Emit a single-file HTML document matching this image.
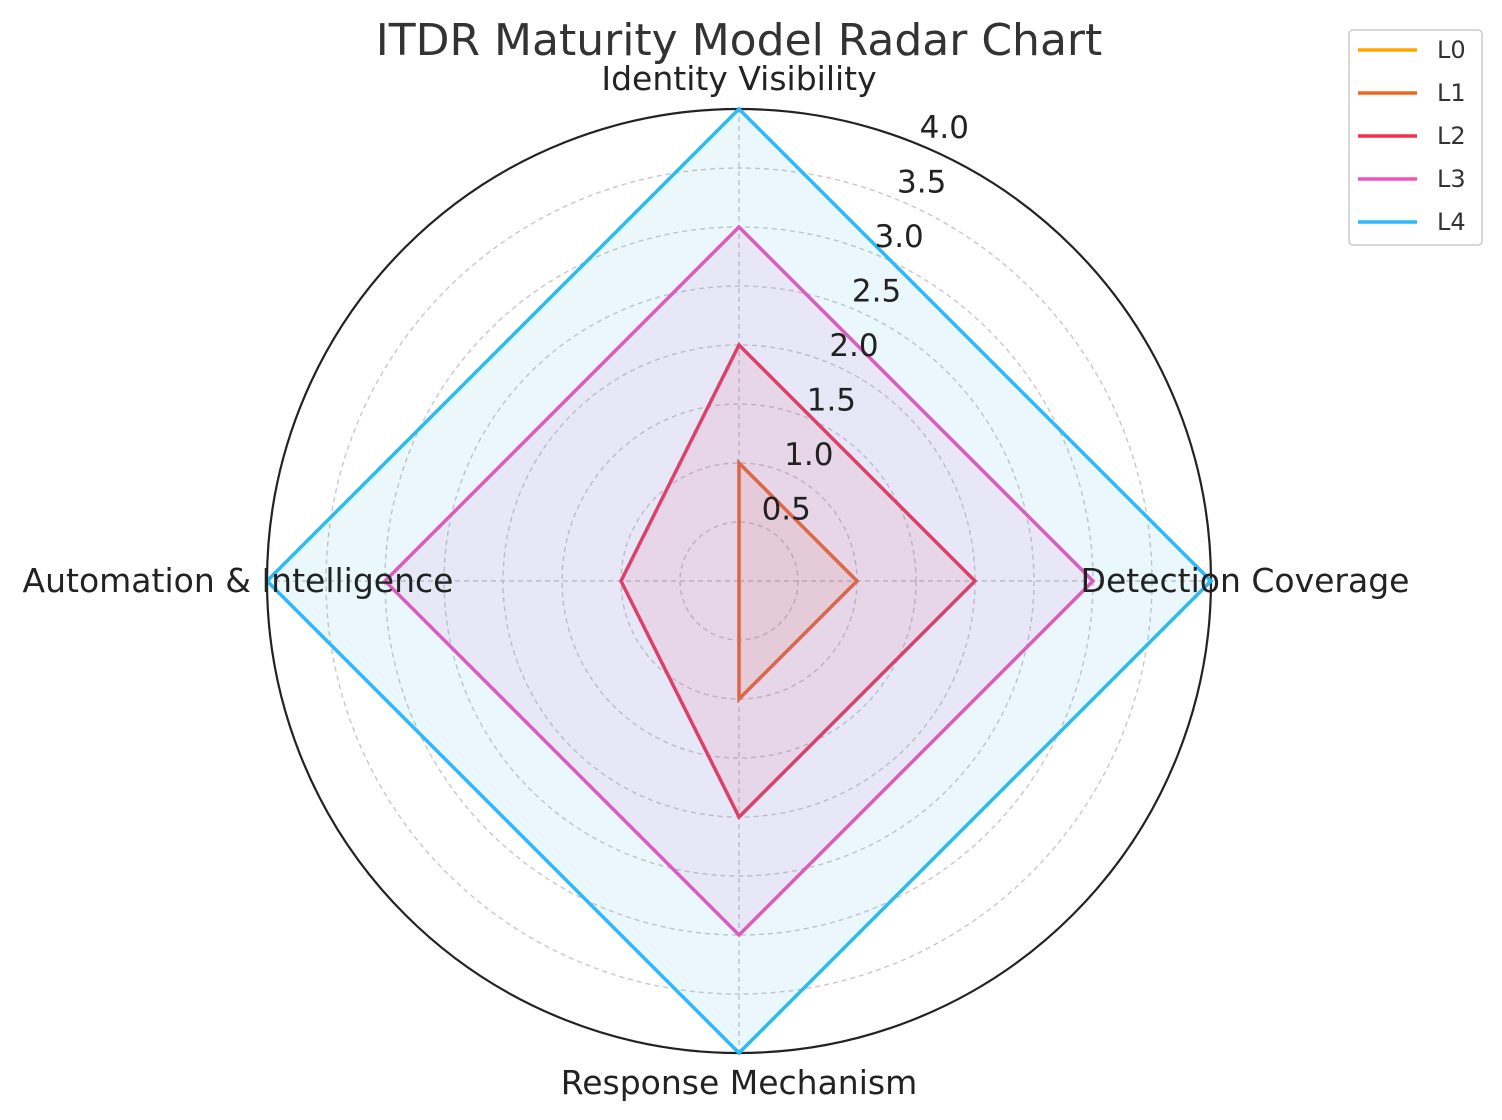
<!DOCTYPE html>
<html><head><meta charset="utf-8"><style>
body{margin:0;background:#fff}
svg{display:block;font-family:"DejaVu Sans","Liberation Sans",sans-serif}
</style></head><body>
<svg id="chart" width="1502" height="1120" viewBox="0 0 1502 1120">
<text x="739" y="55" font-size="44" text-anchor="middle" fill="#333">ITDR Maturity Model Radar Chart</text>
<g id="grid"></g>
<g id="series"></g>
<g id="labels"></g>
<g id="legend">
<rect x="1349" y="30" width="133" height="215" rx="4" fill="#fff" stroke="#ccc" stroke-width="1.5"/>
</g>
</svg>
<script>
const categories = ["Identity Visibility","Detection Coverage","Response Mechanism","Automation & Intelligence"];
const seriesNames = ["L0","L1","L2","L3","L4"];
const L0 = [0,0,0,0];
const L1 = [1,1,1,0];
const L2 = [2,2,2,1];
const L3 = [3,3,3,3];
const L4 = [4,4,4,4];
const tickLabels = ["0.5","1.0","1.5","2.0","2.5","3.0","3.5","4.0"];
const tickValues = [0.5,1,1.5,2,2.5,3,3.5,4];
const seriesValues = [L0,L1,L2,L3,L4];
const colors = ["#FFA500","#F26522","#F0304F","#F052B8","#2DB8F8"];
const NS="http://www.w3.org/2000/svg";
const cx=739, cy=581, R=472, rMax=4;
function rs(v){return v/rMax*R;}
function ang(i){return i*2*Math.PI/categories.length;}
function pt(i,v){const a=ang(i);return [cx+rs(v)*Math.sin(a), cy-rs(v)*Math.cos(a)];}
function mk(tag,attrs,parent){const e=document.createElementNS(NS,tag);for(const k in attrs)e.setAttribute(k,attrs[k]);parent.appendChild(e);return e;}
const grid=document.getElementById('grid');
tickValues.forEach((t,k)=>{
  const c=mk('circle',{cx:cx,cy:cy,r:rs(t),fill:'none',stroke:t===rMax?'#222':'#c8c8c8','stroke-width':t===rMax?2.2:1.4,'stroke-dasharray':t===rMax?'none':'5 4'},grid);
  
  
});
categories.forEach((c,i)=>{
  const p=pt(i,rMax);
  const l=mk('line',{x1:cx,y1:cy,x2:p[0],y2:p[1],stroke:'#c8c8c8','stroke-width':1.4,'stroke-dasharray':'5 4'},grid);
  
  
});
const ser=document.getElementById('series');
seriesValues.forEach((vals,s)=>{
  const pts=vals.map((v,i)=>pt(i,v).join(',')).join(' ');
  const poly=mk('polygon',{points:pts,fill:colors[s],'fill-opacity':0.1,stroke:colors[s],'stroke-width':3.5,'stroke-linejoin':'miter'},ser);
  
  
});
const lab=document.getElementById('labels');
tickValues.forEach((t,k)=>{
  const a=22.5*Math.PI/180;
  const tx=mk('text',{x:cx+rs(t)*Math.sin(a),y:cy-rs(t)*Math.cos(a)-7,'font-size':31,fill:'#222'},lab);
  tx.textContent=tickLabels[k];
  
  
});
const catPos=[[739,90,'middle'],[1245,592,'middle'],[739,1094,'middle'],[238,592,'middle']];
categories.forEach((c,i)=>{
  const tx=mk('text',{x:catPos[i][0],y:catPos[i][1],'font-size':33,'text-anchor':catPos[i][2],fill:'#222'},lab);
  tx.textContent=c;
  
  
});
const leg=document.getElementById('legend');
seriesNames.forEach((n,s)=>{
  const y=50+s*43;
  const ln=mk('line',{x1:1358,y1:y,x2:1417,y2:y,stroke:colors[s],'stroke-width':3.5},leg);
  
  
  const tx=mk('text',{x:1437,y:y+8,'font-size':24,fill:'#333'},leg);
  tx.textContent=n;
  
  
});
</script>
</body></html>
